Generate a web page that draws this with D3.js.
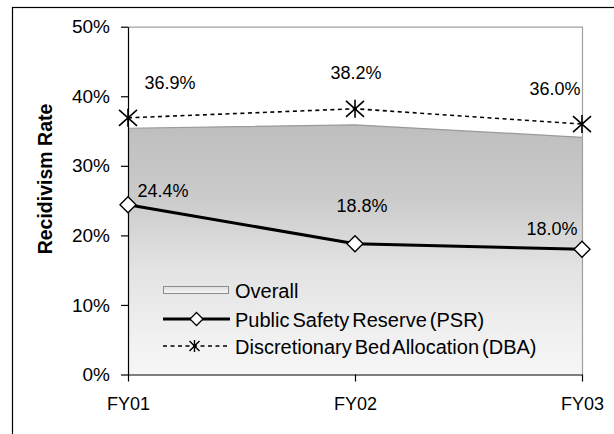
<!DOCTYPE html>
<html>
<head>
<meta charset="utf-8">
<script src="https://cdn.jsdelivr.net/npm/d3@7"></script>
<style>
  html, body { margin: 0; padding: 0; background: #fff; }
  svg { display: block; font-family: "Liberation Sans", Arial, sans-serif; }
</style>
</head>
<body>
<svg id="chart" width="614" height="434"></svg>
<script>
// Recidivism rates by fiscal year
const years = ["FY01", "FY02", "FY03"];
const overallRate = [35.4, 35.9, 34.1];
const psrRate = [24.4, 18.8, 18.0];
const dbaRate = [36.9, 38.2, 36.0];
const yTicks = [0, 10, 20, 30, 40, 50];
const seriesNames = ["Overall", "Public Safety Reserve (PSR)", "Discretionary Bed Allocation (DBA)"];
const yTitle = "Recidivism Rate";

// label nudges (dx, dy) relative to each point
const dbaLabelNudge = [[42, -35], [1, -36], [-27, -35]];
const psrLabelNudge = [[35, -14], [7, -38], [-30, -21]];

const svg = d3.select("#chart");
const plot = { left: 128, right: 582, top: 26.7, bottom: 374.5 };

const x = d3.scalePoint().domain(years).range([plot.left, plot.right]).padding(0);
const y = d3.scaleLinear().domain([0, 50]).range([plot.bottom, plot.top]);

const defs = svg.append("defs");
const grad = defs.append("linearGradient")
  .attr("id", "areaFill").attr("gradientUnits", "userSpaceOnUse")
  .attr("x1", 0).attr("x2", 0).attr("y1", y(36)).attr("y2", y(0));
[["0%", "#bebebe"], ["30%", "#cbcbcb"], ["58%", "#e3e3e3"], ["88%", "#f2f2f2"], ["100%", "#f6f6f6"]]
  .forEach(([o, c]) => grad.append("stop").attr("offset", o).attr("stop-color", c));

const swatchGrad = defs.append("linearGradient")
  .attr("id", "swatchFill").attr("x1", 0).attr("x2", 0).attr("y1", 0).attr("y2", 1);
swatchGrad.append("stop").attr("offset", "0%").attr("stop-color", "#dedede");
swatchGrad.append("stop").attr("offset", "100%").attr("stop-color", "#f6f6f6");

// outer frame
svg.append("rect")
  .attr("x", 12.5).attr("y", 7.5).attr("width", 800).attr("height", 600)
  .attr("fill", "none").attr("stroke", "#000").attr("stroke-width", 1.2);

// Overall area
const overallData = years.map((yr, i) => ({ yr, v: overallRate[i] }));
svg.append("path")
  .datum(overallData)
  .attr("d", d3.area().x(d => x(d.yr)).y0(y(0)).y1(d => y(d.v)))
  .attr("fill", "url(#areaFill)");
svg.append("path")
  .datum(overallData)
  .attr("d", d3.line().x(d => x(d.yr)).y(d => y(d.v)))
  .attr("fill", "none").attr("stroke", "#9a9a9a").attr("stroke-width", 1.2);

// plot area border (top and right)
svg.append("path")
  .attr("d", `M${plot.left},${plot.top + 0.5}H${plot.right + 0.5}V${plot.bottom}`)
  .attr("fill", "none").attr("stroke", "#a0a0a0").attr("stroke-width", 1.2);

// axes
const yAxis = svg.append("g")
  .attr("transform", `translate(${plot.left},0)`)
  .call(d3.axisLeft(y).tickValues(yTicks).tickFormat(d => d + "%").tickSize(7).tickSizeOuter(0).tickPadding(11));
const xAxis = svg.append("g")
  .attr("transform", `translate(0,${plot.bottom})`)
  .call(d3.axisBottom(x).tickSize(7).tickSizeOuter(0).tickPadding(16));
[yAxis, xAxis].forEach(g => {
  g.selectAll("path, line").attr("stroke", "#000").attr("stroke-width", 1.2);
  g.selectAll("text").attr("fill", "#000")
    .attr("font-family", "Liberation Sans, Arial, sans-serif");
});
yAxis.selectAll("text").attr("font-size", 19);
xAxis.selectAll("text").attr("font-size", 18);

// y axis title
svg.append("text")
  .attr("transform", "translate(52,179) rotate(-90)")
  .attr("text-anchor", "middle")
  .attr("font-size", 19.5).attr("font-weight", "bold")
  .text(yTitle);

// marker shapes
const starPath = (r, h) => `M${-r},${-h}L${r},${h}M${-r},${h}L${r},${-h}M0,${-h - 1}V${h + 1}`;
const diamondPath = r => `M0,${-r}L${r},0L0,${r}L${-r},0Z`;

// DBA dashed line
const dbaData = years.map((yr, i) => ({ yr, v: dbaRate[i] }));
svg.append("path")
  .datum(dbaData)
  .attr("d", d3.line().x(d => x(d.yr)).y(d => y(d.v)))
  .attr("fill", "none").attr("stroke", "#000").attr("stroke-width", 1.6)
  .attr("stroke-dasharray", "4,3.5");
svg.selectAll(".dbaMark").data(dbaData).enter().append("path")
  .attr("transform", d => `translate(${x(d.yr)},${y(d.v)})`)
  .attr("d", starPath(9, 8))
  .attr("fill", "none").attr("stroke", "#000").attr("stroke-width", 1.6);

// PSR solid line
const psrData = years.map((yr, i) => ({ yr, v: psrRate[i] }));
svg.append("path")
  .datum(psrData)
  .attr("d", d3.line().x(d => x(d.yr)).y(d => y(d.v)))
  .attr("fill", "none").attr("stroke", "#000").attr("stroke-width", 3);
svg.selectAll(".psrMark").data(psrData).enter().append("path")
  .attr("transform", d => `translate(${x(d.yr)},${y(d.v)})`)
  .attr("d", diamondPath(8))
  .attr("fill", "#fff").attr("stroke", "#000").attr("stroke-width", 1.4);

// value labels
const fmt = v => v.toFixed(1) + "%";
svg.selectAll(".dbaLabel").data(dbaData).enter().append("text")
  .attr("x", (d, i) => x(d.yr) + dbaLabelNudge[i][0])
  .attr("y", (d, i) => y(d.v) + dbaLabelNudge[i][1])
  .attr("dy", "0.35em").attr("text-anchor", "middle")
  .attr("font-size", 18).text(d => fmt(d.v));
svg.selectAll(".psrLabel").data(psrData).enter().append("text")
  .attr("x", (d, i) => x(d.yr) + psrLabelNudge[i][0])
  .attr("y", (d, i) => y(d.v) + psrLabelNudge[i][1])
  .attr("dy", "0.35em").attr("text-anchor", "middle")
  .attr("font-size", 18).text(d => fmt(d.v));

// legend
const legend = svg.append("g");
const lx0 = 163, lx1 = 230, tx = 235;
const rows = [290, 319, 346];
legend.append("rect")
  .attr("x", lx0 + 0.5).attr("y", 286.5).attr("width", 65).attr("height", 7)
  .attr("fill", "url(#swatchFill)").attr("stroke", "#8c8c8c").attr("stroke-width", 1);
legend.append("line")
  .attr("x1", lx0).attr("x2", lx1).attr("y1", rows[1]).attr("y2", rows[1])
  .attr("stroke", "#000").attr("stroke-width", 3);
legend.append("path")
  .attr("transform", `translate(${(lx0 + lx1) / 2},${rows[1]})`)
  .attr("d", diamondPath(6.5))
  .attr("fill", "#fff").attr("stroke", "#000").attr("stroke-width", 1.3);
legend.append("line")
  .attr("x1", lx0).attr("x2", lx1).attr("y1", rows[2]).attr("y2", rows[2])
  .attr("stroke", "#000").attr("stroke-width", 1.6).attr("stroke-dasharray", "4,3.5");
legend.append("path")
  .attr("transform", `translate(${(lx0 + lx1) / 2 - 2},${rows[2]})`)
  .attr("d", starPath(5, 5))
  .attr("fill", "none").attr("stroke", "#000").attr("stroke-width", 1.4);
legend.selectAll(".legText").data(seriesNames).enter().append("text")
  .attr("x", tx).attr("y", (d, i) => rows[i] + 1)
  .attr("dy", "0.35em").attr("font-size", 20).attr("word-spacing", -2.5)
  .text(d => d);
</script>
</body>
</html>
